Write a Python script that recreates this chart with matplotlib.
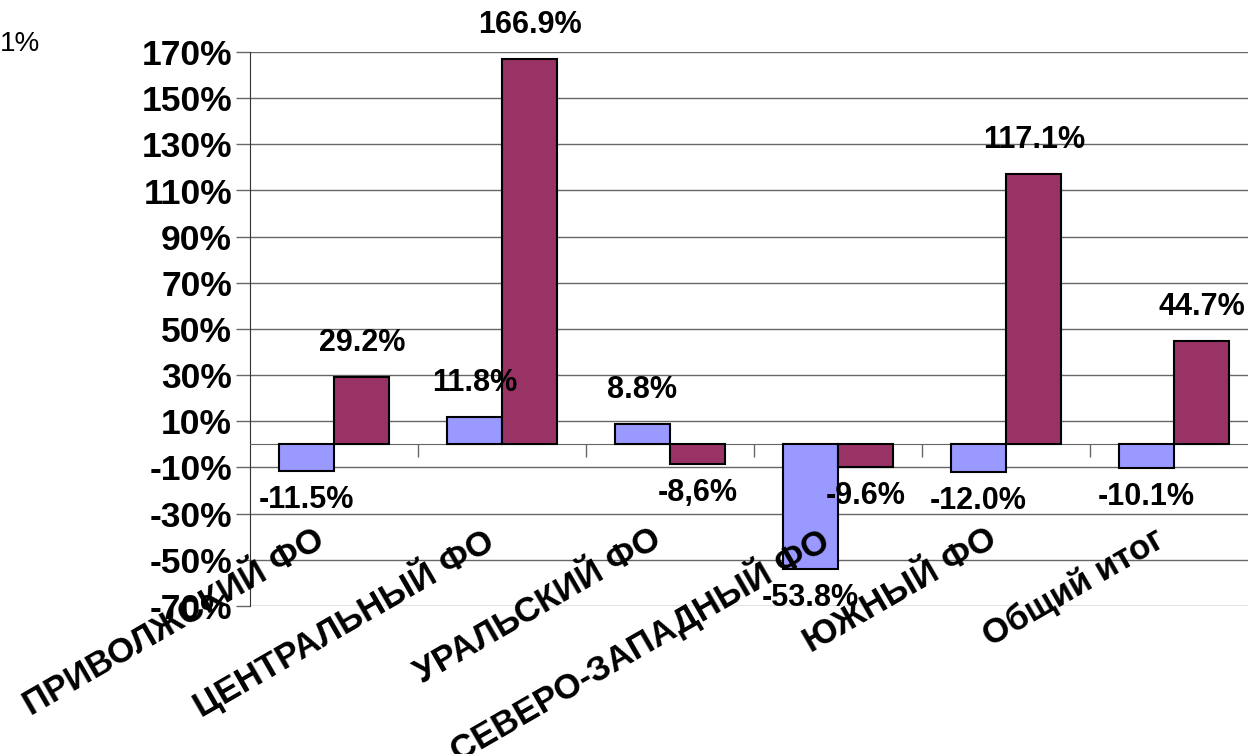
import numpy as np
import matplotlib
matplotlib.use("Agg")
import matplotlib.pyplot as plt

plt.rcParams["font.family"] = ["Liberation Sans", "DejaVu Sans"]

regions = ["ПРИВОЛЖСКИЙ ФО", "ЦЕНТРАЛЬНЫЙ ФО", "УРАЛЬСКИЙ ФО",
           "СЕВЕРО-ЗАПАДНЫЙ ФО", "ЮЖНЫЙ ФО", "Общий итог"]
series_a = [-11.5, 11.8, 8.8, -53.8, -12.0, -10.1]
series_b = [29.2, 166.9, -8.6, -9.6, 117.1, 44.7]
labels_a = ["-11.5%", "11.8%", "8.8%", "-53.8%", "-12.0%", "-10.1%"]
labels_b = ["29.2%", "166.9%", "-8,6%", "-9.6%", "117.1%", "44.7%"]
yticks = list(range(-70, 171, 20))

color_a = "#9999FF"
color_b = "#993366"
grid_color = "#666666"

fig = plt.figure(figsize=(12.48, 7.54), dpi=100)
ax = fig.add_axes([250 / 1248, 148 / 754, 1008 / 1248, 554 / 754])

x = np.arange(len(regions))
w = 0.33
ax.bar(x - w / 2, series_a, width=w, color=color_a, edgecolor="black", linewidth=1.5, zorder=3)
ax.bar(x + w / 2, series_b, width=w, color=color_b, edgecolor="black", linewidth=1.5, zorder=3)

ax.set_xlim(-0.5, len(regions) - 0.5)
ax.set_ylim(-70, 170)
ax.set_yticks(yticks)
ax.set_yticklabels([f"{v}%" for v in yticks], fontsize=25.5, fontweight="bold")
ax.yaxis.grid(True, color=grid_color, linewidth=1.0)
ax.set_axisbelow(True)
ax.tick_params(axis="y", direction="out", length=10, width=1, color=grid_color, pad=3)

# category axis sits at zero, small ticks at the category borders
ax.spines["bottom"].set_position(("data", 0))
ax.spines["bottom"].set_color(grid_color)
ax.spines["left"].set_color("#333333")
ax.spines["top"].set_visible(False)
ax.spines["right"].set_visible(False)
ax.set_xticks(x[:-1] + 0.5)
ax.set_xticklabels([])
ax.tick_params(axis="x", direction="out", length=9, width=1, color=grid_color)

for xi, v, t in zip(x - w / 2, series_a, labels_a):
    ax.annotate(t, (xi, v), xytext=(0, 34 if v > 0 else -29), textcoords="offset pixels",
                ha="center", va="center", fontsize=22, fontweight="bold", zorder=5)
for xi, v, t in zip(x + w / 2, series_b, labels_b):
    ax.annotate(t, (xi, v), xytext=(0, 34 if v > 0 else -29), textcoords="offset pixels",
                ha="center", va="center", fontsize=22, fontweight="bold", zorder=5)

for xi, name in zip(x, regions):
    ax.text(xi - 0.07, -40, name, rotation=30, rotation_mode="anchor", ha="right", va="center",
            fontsize=25, fontweight="bold", zorder=6, clip_on=False)

fig.text(0.0, 1 - 51 / 754, "1%", fontsize=20, ha="left", va="baseline")

fig.savefig("out.png", dpi=100)
